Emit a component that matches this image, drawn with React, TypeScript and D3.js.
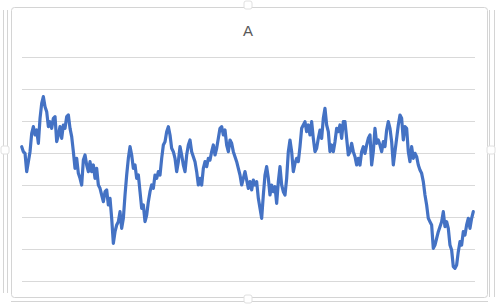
import React from "react";
import * as d3 from "d3";

const title = "A";
const gridTicks = [-384, -288, -192, -96, 0, 96, 192, 288];
const values = [
  19, 4, -1, -56, -26, 4, 59, 79, 54, 69, 29, 104, 149, 169, 139, 124, 79, 94, 74, 104,
  109, 34, 54, 79, 44, 84, 74, 109, 114, 74, 49, 4, -46, -16, -61, -76, -96, -21, -6, -36,
  -56, -26, -56, -36, -76, -46, -96, -106, -126, -146, -116, -111, -156, -136, -196, -271, -236, -216, -206, -176,
  -226, -196, -126, -66, -16, 19, -6, -46, -36, -76, -66, -116, -166, -156, -206, -186, -146, -116, -96, -106,
  -66, -76, -56, -66, -16, 24, 34, 64, 79, 54, 14, 4, -16, -56, -26, 19, -6, -36, -56, -6,
  24, 39, 4, -11, -26, -56, -96, -76, -96, -46, -26, -41, -16, -21, 4, 24, -6, 14, 44, 74,
  79, 54, 69, 24, 4, 39, 29, 4, -11, -26, -46, -66, -96, -76, -56, -81, -106, -86, -111, -81,
  -96, -86, -136, -166, -196, -126, -66, -41, -76, -126, -96, -116, -101, -151, -86, -41, -96, -116, -126, -76,
  4, 39, 4, -56, -31, -16, -26, 19, 74, 84, 94, 64, 84, 54, 94, 44, 4, 14, 44, 69,
  44, 104, 134, 84, 64, 4, 24, 4, 34, 74, 64, 84, 44, 94, 94, 44, -6, 4, 29, 4,
  -11, -36, -16, -36, 4, 19, -1, 24, 44, 54, -36, 4, 74, 29, 39, 24, 4, 34, 19, 69,
  94, 74, 34, -36, 4, 44, 84, 114, 104, 39, 79, 74, 4, -26, 19, -16, -1, -11, -36, -51,
  -61, -86, -126, -156, -196, -206, -216, -286, -276, -256, -236, -221, -206, -176, -221, -206, -226, -276, -291, -341,
  -346, -336, -296, -266, -276, -236, -246, -216, -196, -226, -196, -176,
];

export default function App() {
  const W = 500, H = 306;
  const x = d3.scaleLinear().domain([0, values.length - 1]).range([21.7, 473.3]);
  const y = d3.scaleLinear().domain([-384, 288]).range([281, 57]);
  const line = d3.line<number>().x((_, i) => x(i)).y((d) => y(d)).curve(d3.curveLinear);
  const frame = "#d4d4d4";
  const handles: [number, number][] = [
    [5, 150], [491, 150], [248, 299], [248, 5],
  ];
  return (
    <svg width={W} height={H} style={{ position: "absolute", left: 0, top: 0, background: "#fff" }}>
      <rect x={0} y={0} width={W} height={H} fill="#fff" />
      <line x1={3.5} x2={3.5} y1={10} y2={293} stroke={frame} />
      <line x1={7.5} x2={7.5} y1={10} y2={293} stroke={frame} />
      <line x1={489.5} x2={489.5} y1={10} y2={297} stroke={frame} />
      <line x1={494.5} x2={494.5} y1={10} y2={297} stroke={frame} />
      <line x1={11} x2={488} y1={301.5} y2={301.5} stroke={frame} />
      <rect x={11.5} y={7.5} width={476} height={290} rx={3} fill="#fff" stroke={frame} />
      {handles.map(([hx, hy], i) => (
        <rect key={i} x={hx - 4} y={hy - 4} width={8} height={8} rx={2} fill="#fff" stroke="#e0e0e0" />
      ))}
      {gridTicks.map((t) => (
        <line key={t} x1={22} x2={475} y1={Math.round(y(t)) + 0.5} y2={Math.round(y(t)) + 0.5} stroke="#d9d9d9" strokeWidth={1} />
      ))}
      <text x={248} y={36} textAnchor="middle" fontFamily="'Liberation Sans', Arial, sans-serif" fontSize={15} fill="#595959">
        {title}
      </text>
      <path d={line(values) || ""} fill="none" stroke="#4472C4" strokeWidth={3.2} strokeLinejoin="round" strokeLinecap="round" />
    </svg>
  );
}
